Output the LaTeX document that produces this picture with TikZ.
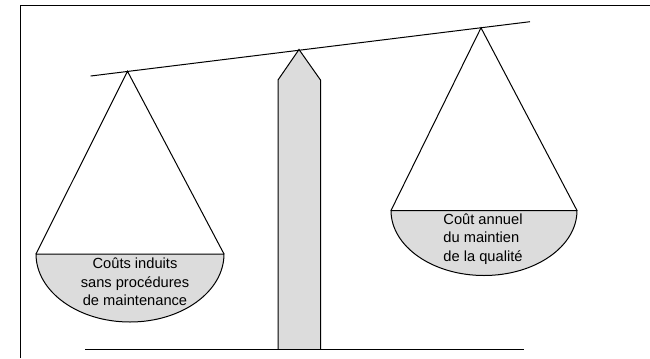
\documentclass[tikz,border=0pt]{standalone}
\usepackage{fontspec}
\setmainfont{Liberation Sans}
\usetikzlibrary{calc}
\definecolor{panbg}{HTML}{DCDCDC}

\begin{document}
\begin{tikzpicture}[x=0.75pt,y=-0.75pt,line width=0.75pt,
      lbl/.style={font=\fontsize{11}{14}\selectfont,inner sep=0pt},
      pan/.style={draw,fill=panbg}]
    \useasboundingbox (0,0) rectangle (650,358);
    \draw (20.5,358) -- (20.5,5.5) -- (650,5.5);
    % beam with its pivot and hanging points
    \coordinate (bl) at (90.7,76);
    \coordinate (br) at (530,21.7);
    \coordinate (tip) at (299,49.5);
    \coordinate (hl) at (127.5,71.3);
    \coordinate (hr) at (481,27.8);
    % pillar and floor
    \draw[fill=panbg] (278,349) -- (278,80) -- (tip) -- (320.5,80) -- (320.5,349);
    \draw (85,349) -- (524,349);
    \draw (bl) -- (br);
    % left pan
    \coordinate (l1) at (36,254);\coordinate (l2) at (224,254);
    \draw[pan] (l2) arc[start angle=0,end angle=180,x radius=94,y radius=68] -- cycle;
    \draw (l1)--(hl)--(l2);
    \node[lbl,align=center] (lt) at (135,282) {Coûts induits\\sans procédures\\de maintenance};
    % right pan
    \coordinate (r1) at (391,210.5);\coordinate (r2) at (577,210.5);
    \draw[pan] (r2) arc[start angle=0,end angle=180,x radius=93,y radius=65] -- cycle;
    \draw (r1)--(hr)--(r2);
    \node[lbl,align=left] (rt) at (483,239) {Coût annuel\\du maintien\\de la qualité};
  \end{tikzpicture}
\end{document}
